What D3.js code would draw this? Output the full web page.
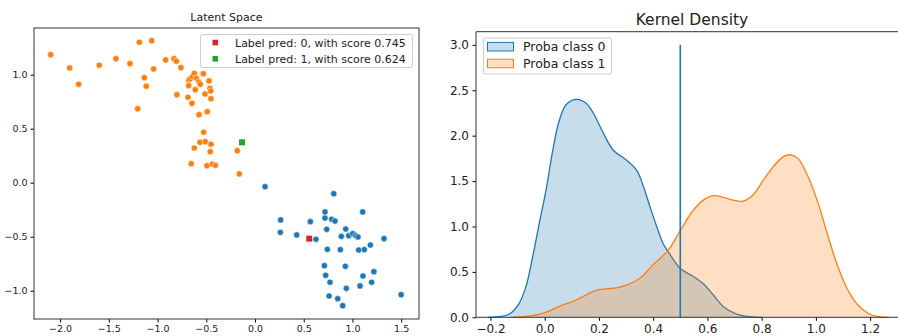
<!DOCTYPE html>
<html>
<head>
<meta charset="utf-8">
<script src="https://cdn.jsdelivr.net/npm/d3@7"></script>
<style>
	body { margin:0; background:#fff; }
	text { font-family:"DejaVu Sans", sans-serif; fill:#222; }
</style>
</head>
<body>
<script>
// latent space points, class 1 (orange)
var orangeX = [-2.097,-1.902,-1.810,-1.598,-1.427,-1.283,-1.187,-1.060,-1.136,-1.116,-1.040,-1.204,-0.917,-0.831,-0.807,-0.760,-0.801,-0.688,-0.681,-0.681,-0.667,-0.643,-0.623,-0.613,-0.602,-0.575,-0.561,-0.530,-0.513,-0.472,-0.462,-0.455,-0.452,-0.647,-0.575,-0.490,-0.527,-0.565,-0.510,-0.452,-0.623,-0.459,-0.654,-0.493,-0.438,-0.407,-0.182,-0.161];
var orangeY = [1.185,1.062,0.911,1.087,1.148,1.102,1.300,1.315,0.972,0.893,1.053,0.685,1.136,1.148,1.124,1.065,0.815,0.791,0.948,0.898,0.960,0.981,1.013,0.861,0.967,0.932,0.911,1.009,0.821,0.942,0.874,0.849,0.778,0.735,0.630,0.657,0.467,0.374,0.380,0.356,0.321,0.287,0.176,0.157,0.173,0.161,0.296,0.081];
// class 0 (blue)
var blueX = [0.103,0.808,0.263,0.260,0.428,0.568,0.626,0.718,0.718,0.736,0.742,0.787,0.821,0.876,0.886,0.931,0.962,1.003,1.034,1.057,1.064,1.105,1.122,1.184,1.324,0.712,0.725,0.770,0.927,1.108,1.220,1.197,1.078,0.937,0.760,0.849,0.900,1.499];
var blueY = [-0.037,-0.102,-0.345,-0.460,-0.484,-0.361,-0.524,-0.271,-0.327,-0.432,-0.617,-0.339,-0.355,-0.620,-0.497,-0.429,-0.491,-0.472,-0.491,-0.503,-0.623,-0.271,-0.620,-0.577,-0.518,-0.768,-0.858,-0.922,-0.774,-0.864,-0.824,-0.922,-0.956,-0.978,-1.049,-1.074,-1.139,-1.037];
// the two predicted points
var predX = [0.557, -0.133];
var predY = [-0.518, 0.374];
var predLabels = ['Label pred: 0, with score 0.745', 'Label pred: 1, with score 0.624'];

// kernel density curves
var kdeBlueX = [-0.21,-0.16,-0.13,-0.094,-0.069,-0.044,-0.02,0.005,0.03,0.054,0.079,0.115,0.152,0.179,0.216,0.253,0.302,0.339,0.364,0.388,0.413,0.437,0.456,0.499,0.536,0.548,0.585,0.622,0.659,0.708,0.757,0.80];
var kdeBlueY = [0,0.01,0.036,0.154,0.34,0.67,1.035,1.40,1.84,2.17,2.34,2.40,2.36,2.25,2.03,1.84,1.73,1.62,1.44,1.22,1.00,0.81,0.72,0.54,0.47,0.45,0.37,0.245,0.117,0.036,0.007,0];
var kdeOrangeX = [-0.12,-0.07,-0.007,0.054,0.115,0.152,0.192,0.253,0.302,0.351,0.40,0.456,0.499,0.536,0.548,0.585,0.622,0.659,0.695,0.732,0.769,0.806,0.843,0.880,0.904,0.934,0.971,1.008,1.045,1.081,1.118,1.155,1.192,1.229,1.27];
var kdeOrangeY = [0,0.01,0.044,0.12,0.19,0.245,0.30,0.32,0.355,0.43,0.58,0.74,0.95,1.13,1.18,1.29,1.34,1.32,1.29,1.28,1.35,1.51,1.66,1.77,1.79,1.75,1.55,1.26,0.89,0.56,0.30,0.135,0.044,0.007,0];
var kdeLabels = ['Proba class 0', 'Proba class 1'];
var threshold = 0.5;

var blue = '#1f77b4', orange = '#ff7f0e', red = '#d62728', green = '#2ca02c';
var svg = d3.select('body').append('svg').attr('width', 898).attr('height', 336);

// ---------- left: latent space ----------
var L = {l:34, r:419, t:28, b:319};
var lx = d3.scaleLinear().domain([-2.268, 1.683]).range([L.l, L.r]);
var ly = d3.scaleLinear().domain([-1.262, 1.432]).range([L.b, L.t]);
var left = svg.append('g');

left.append('g').attr('transform', 'translate(0,' + L.b + ')')
	.call(d3.axisBottom(lx).tickValues(d3.range(-2, 1.51, 0.5)).tickFormat(d3.format('.1f')).tickSize(3.5).tickPadding(3))
	.call(function(g){ g.select('.domain').remove(); g.selectAll('text').style('font-size','9.5px'); });
left.append('g').attr('transform', 'translate(' + L.l + ',0)')
	.call(d3.axisLeft(ly).tickValues(d3.range(-1, 1.01, 0.5)).tickFormat(d3.format('.1f')).tickSize(3.5).tickPadding(3))
	.call(function(g){ g.select('.domain').remove(); g.selectAll('text').style('font-size','9.5px'); });

var pts = orangeX.map(function(x, i){ return {x:x, y:orangeY[i], c:orange}; })
	.concat(blueX.map(function(x, i){ return {x:x, y:blueY[i], c:blue}; }));
left.append('g').selectAll('circle').data(pts).enter().append('circle')
	.attr('cx', function(d){ return lx(d.x); }).attr('cy', function(d){ return ly(d.y); })
	.attr('r', 3.1).attr('fill', function(d){ return d.c; })
	.attr('stroke', '#fff').attr('stroke-width', 0.5);

var preds = predX.map(function(x, i){ return {x:x, y:predY[i], c:[red, green][i], l:predLabels[i]}; });
left.append('g').selectAll('rect').data(preds).enter().append('rect')
	.attr('x', function(d){ return lx(d.x) - 3; }).attr('y', function(d){ return ly(d.y) - 3; })
	.attr('width', 6).attr('height', 6).attr('fill', function(d){ return d.c; });

left.append('rect').attr('x', L.l).attr('y', L.t).attr('width', L.r - L.l).attr('height', L.b - L.t)
	.attr('fill', 'none').attr('stroke', '#333').attr('stroke-width', 1);

left.append('text').attr('x', (L.l + L.r) / 2).attr('y', 21).attr('text-anchor', 'middle')
	.style('font-size', '11px').text('Latent Space');

var lleg = left.append('g');
lleg.append('rect').attr('x', 200.5).attr('y', 34.5).attr('width', 212).attr('height', 33).attr('rx', 2)
	.attr('fill', '#fff').attr('fill-opacity', 0.8).attr('stroke', '#ccc');
lleg.selectAll('g').data(preds).enter().append('g')
	.attr('transform', function(d, i){ return 'translate(0,' + (42.5 + i * 16.3) + ')'; })
	.each(function(d){
		var g = d3.select(this);
		g.append('rect').attr('x', 212.5).attr('y', -2.8).attr('width', 5.6).attr('height', 5.6).attr('fill', d.c);
		g.append('text').attr('x', 235).attr('y', 4).style('font-size', '11px').text(d.l);
	});

// ---------- right: kernel density ----------
var R = {l:476, r:908, t:31.7, b:317.3};
var rx = d3.scaleLinear().domain([-0.2533, 1.3397]).range([R.l, R.r]);
var ry = d3.scaleLinear().domain([0, 3.145]).range([R.b, R.t]);
var right = svg.append('g');

right.append('g').attr('transform', 'translate(0,' + R.b + ')')
	.call(d3.axisBottom(rx).tickValues(d3.range(-0.2, 1.21, 0.2)).tickFormat(d3.format('.1f')).tickSize(3.5).tickPadding(3.5))
	.call(function(g){ g.select('.domain').remove(); g.selectAll('text').style('font-size','12px'); });
right.append('g').attr('transform', 'translate(' + R.l + ',0)')
	.call(d3.axisLeft(ry).tickValues(d3.range(0, 3.01, 0.5)).tickFormat(d3.format('.1f')).tickSize(3.5).tickPadding(3.5))
	.call(function(g){ g.select('.domain').remove(); g.selectAll('text').style('font-size','12px'); });

var series = [
	{x:kdeBlueX, y:kdeBlueY, c:blue, l:kdeLabels[0]},
	{x:kdeOrangeX, y:kdeOrangeY, c:orange, l:kdeLabels[1]}
];
var curve = d3.curveCatmullRom.alpha(0.5);
var area = d3.area().curve(curve)
	.x(function(d){ return rx(d[0]); }).y0(ry(0)).y1(function(d){ return Math.min(ry(0), ry(d[1])); });
var line = d3.line().curve(curve)
	.x(function(d){ return rx(d[0]); }).y(function(d){ return ry(d[1]); });
series.forEach(function(s){
	var data = s.x.map(function(x, i){ return [x, s.y[i]]; });
	right.append('path').attr('d', area(data)).attr('fill', s.c).attr('fill-opacity', 0.25);
	right.append('path').attr('d', line(data)).attr('fill', 'none').attr('stroke', s.c).attr('stroke-width', 1.3);
});

right.append('line').attr('x1', rx(threshold)).attr('x2', rx(threshold))
	.attr('y1', ry(0)).attr('y2', ry(3)).attr('stroke', blue).attr('stroke-width', 1.6);

right.append('path').attr('d', 'M' + R.r + ',' + R.t + 'H' + R.l + 'V' + R.b + 'H' + R.r)
	.attr('fill', 'none').attr('stroke', '#333').attr('stroke-width', 1);

right.append('text').attr('x', (R.l + R.r) / 2).attr('y', 25).attr('text-anchor', 'middle')
	.style('font-size', '15.5px').text('Kernel Density');

var rleg = right.append('g');
rleg.append('rect').attr('x', 483.5).attr('y', 38).attr('width', 128).attr('height', 36).attr('rx', 2)
	.attr('fill', '#fff').attr('fill-opacity', 0.8).attr('stroke', '#ccc');
rleg.selectAll('g').data(series).enter().append('g')
	.attr('transform', function(d, i){ return 'translate(0,' + (46.7 + i * 16.8) + ')'; })
	.each(function(d){
		var g = d3.select(this);
		g.append('rect').attr('x', 487.5).attr('y', -4.3).attr('width', 26).attr('height', 8.6)
			.attr('fill', d.c).attr('fill-opacity', 0.25).attr('stroke', d.c).attr('stroke-width', 1);
		g.append('text').attr('x', 523).attr('y', 4.5).style('font-size', '12.5px').text(d.l);
	});
</script>
</body>
</html>
